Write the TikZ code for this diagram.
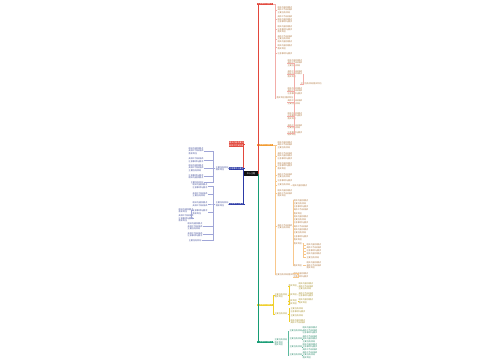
\documentclass[tikz,border=0pt]{standalone}
\usepackage{fontspec}
\newfontfamily\cjk{Noto Sans CJK SC}
\usetikzlibrary{positioning}

\definecolor{rootc}{HTML}{111111}
\definecolor{redb}{HTML}{E2483D}
\definecolor{blueb}{HTML}{2C3AA6}
\definecolor{orangeb}{HTML}{F29A2E}
\definecolor{yellowb}{HTML}{F0CF2A}
\definecolor{greenb}{HTML}{169C74}
\definecolor{tbrown}{HTML}{B07A44}
\definecolor{tblue}{HTML}{44509A}
\definecolor{tyellow}{HTML}{A89230}
\definecolor{tgreen}{HTML}{2F8C6E}

% filler lines
\newcommand\fa{相关内容及要点}
\newcommand\fb{具体工作安排表}
\newcommand\fc{注意事项与要求}
\newcommand\fd{主要任务目标}
\newcommand\fe{落实到位}

\tikzset{
  topic/.style={fill=rootc,text=white,minimum width=14,minimum height=5,inner sep=0.5pt},
  branch/.style={text=white,align=center,minimum width=14,inner sep=0.5pt},
  leafr/.style={anchor=west,align=left},
  leafl/.style={anchor=east,align=left,text=tblue},
  spine/.style={line width=0.7pt},
  twig/.style={line width=0.3pt}
}

\begin{document}
\begin{tikzpicture}[x=1pt,y=-1pt,every node/.style={font=\cjk\fontsize{2.1}{2.5}\selectfont,inner sep=0.4pt}]
\useasboundingbox (0,0) rectangle (500,360);

\node[topic] (root) at (251,173.5) {中心主题};

% left side
\node[branch,fill=redb] (redL) at (236.5,144) {\fa\\\fb};
\node[branch,fill=blueb] (blueA) at (236.5,168.5) {\fc};
\node[branch,fill=blueb] (blueB) at (236.5,204) {\fc};

\node[leafl] (ba) at (229,168.5) {\fd\\\fe};
\node[leafl] (ba1) at (204,151) {\fa\\\fb\\\fe};
\node[leafl] (ba2) at (204,160) {\fb\\\fc};
\node[leafl] (ba3) at (204,168) {\fa\\\fb\\\fd};
\node[leafl] (ba4) at (204,176.5) {\fc\\\fa};
\node[leafl] (ba5) at (204,182.5) {\fd};

\node[leafl] (bb) at (229,204) {\fd\\\fe};
\node[leafl] (bb1) at (208,186) {\fa\\\fc};
\node[leafl] (bb2) at (208,194.5) {\fb\\\fd};
\node[leafl] (bb3) at (208,204) {\fa\\\fb};
\node[leafl] (bb4) at (208,212) {\fc\\\fe};
\node[leafl] (bb5) at (203,226.5) {\fa\\\fb\\\fd};
\node[leafl] (bb6) at (203,234.5) {\fb\\\fc};
\node[leafl] (bb7) at (202,240.5) {\fd};
\node[leafl] (bb4a) at (194,210.5) {\fa\\\fe};
\node[leafl] (bb4b) at (194,218.5) {\fb\\\fc\\\fe};

% right side, red
\node[branch,fill=redb] (redT) at (265,4) {\fc};
\begin{scope}[every node/.style={leafr,text=tbrown,font=\cjk\fontsize{2.1}{2.5}\selectfont,inner sep=0.4pt}]
\node (r1) at (277,10) {\fa\\\fb\\\fd};
\node (r2) at (277,19.5) {\fb\\\fa\\\fc};
\node (r3) at (277,29.5) {\fa\\\fc\\\fe};
\node (r4) at (277,39) {\fb\\\fd\\\fa};
\node (r5) at (277,47) {\fa\\\fe};
\node (r6) at (277,53.5) {\fc};
\node (r7) at (276,98) {\fe\fe};
\node (r7a) at (287,63) {\fa\\\fb\\\fd};
\node (r7b) at (287,74) {\fb\\\fa\\\fe};
\node (r7c) at (287,91) {\fa\\\fb\\\fc};
\node (r7d) at (287,102) {\fb\\\fd};
\node (r7e) at (287,116) {\fa\\\fc\\\fe};
\node (r7f) at (287,126.5) {\fb\\\fd};
\node (r7g) at (287,133.5) {\fc\\\fe};
\node (r7b1) at (300,84) {\fd\fe};

% right side, orange
\node (o1) at (277,145) {\fa\\\fb\\\fd};
\node (o2) at (277,156) {\fb\\\fa\\\fc};
\node (o3) at (277,166) {\fa\\\fc\\\fe};
\node (o4) at (277,175.5) {\fb\\\fd};
\node (o5) at (277,181) {\fc};
\node (o6) at (277,185) {\fd};
\node (o6a) at (292,185.5) {\fa};
\node (o7) at (277,193.5) {\fa\\\fb\\\fe};
\node (o8) at (277,226.5) {\fb\\\fd};
\foreach \n/\yy/\t in {1/200.5/\fa,2/204/\fd,3/207/\fc,4/210/\fb,5/213.5/\fe,6/217/\fa,7/220/\fd,
    8/223/\fc,9/226.5/\fb,10/230/\fa,11/233/\fd,12/236.5/\fc,13/240/\fe}
  \node (o8\n) at (293,\yy) {\t};
\node (o8x) at (293,243.5) {\fe};
\foreach \n/\yy/\t in {1/245/\fa,2/248/\fb,3/251/\fc,4/254/\fa,5/257.5/\fd}
  \node (o8x\n) at (306,\yy) {\t};
\node (o8y) at (293,265.5) {\fe};
\node (o8y1) at (306,265.5) {\fa\\\fb\\\fe};
\node (o9) at (275,274.5) {\fd\fe};
\node (o91) at (293,273.5) {\fa};
\node (o92) at (293,277) {\fc};
\end{scope}
\node[branch,fill=orangeb] (orangeT) at (265,145) {\fc};

% right side, yellow
\node[branch,fill=yellowb] (yellowT) at (265,305) {\fc};
\begin{scope}[every node/.style={leafr,text=tyellow,font=\cjk\fontsize{2.1}{2.5}\selectfont,inner sep=0.4pt}]
\node (yA) at (274,295.5) {\fd\\\fe};
\node (yB) at (274,314) {\fd};
\node (ya1) at (288,286) {\fe};
\node (ya2) at (288,295) {\fe};
\node (ya3) at (288,301) {\fe};
\node (ya4) at (288,304) {\fe};
\node (ya11) at (298,286.5) {\fa\\\fb\\\fd};
\node (ya21) at (298,294.5) {\fb\\\fc};
\node (ya31) at (298,301) {\fa\\\fe};
\node (yb1) at (290,308.5) {\fd};
\node (yb2) at (290,312) {\fc};
\node (yb3) at (290,316) {\fd};
\node (yb4) at (290,321.5) {\fa\\\fb};
\end{scope}

% right side, green
\node[branch,fill=greenb] (greenT) at (265,342) {\fc};
\begin{scope}[every node/.style={leafr,text=tgreen,font=\cjk\fontsize{2.1}{2.5}\selectfont,inner sep=0.4pt}]
\node (gA) at (274,342.5) {\fd\\\fe\\\fe};
\node (g1) at (289,331) {\fd};
\node (g2) at (289,339) {\fd};
\node (g3) at (289,347) {\fd};
\node (g4) at (289,355) {\fd};
\node (g11) at (302,330.5) {\fa\\\fb\\\fc};
\node (g21) at (302,339) {\fb\\\fa\\\fd};
\node (g31) at (302,347) {\fa\\\fc\\\fb};
\node (g41) at (302,355) {\fb\\\fd\\\fe};
\end{scope}

% main branches
\begin{scope}[spine]
\draw[orangeb] (root.east) |- (orangeT.west);
\draw[redb] (root.east) |- (redT.west);
\draw[yellowb] (root.east) |- (yellowT.west);
\draw[greenb] (root.east) |- (greenT.west);
\draw[redb] (root.west) |- (redL.east);
\draw[blueb] (root.west) |- (blueA.east);
\draw[blueb] (root.west) |- (blueB.east);
\end{scope}

% twigs
\begin{scope}[twig]
\draw[blueb!50] (blueA.west) -- (ba.east);
\draw[blueb!50] (blueB.west) -- (bb.east);
\foreach \c in {ba1,ba2,ba3,ba4,ba5}
  \draw[blueb!45] (ba.west) -- ++(-2,0) |- (\c.east);
\foreach \c in {bb1,bb2,bb3,bb4,bb5,bb6,bb7}
  \draw[blueb!45] (bb.west) -- ++(-2,0) |- (\c.east);
\foreach \c in {bb4a,bb4b}
  \draw[blueb!45] (bb4.west) -- ++(-0.8,0) |- (\c.east);

\foreach \c in {r1,r2,r3,r4,r5,r6,r7}
  \draw[redb!45] (redT.east) -- ++(2,0) |- (\c.west);
\foreach \c in {r7a,r7b,r7c,r7d,r7e,r7f,r7g}
  \draw[redb!45] (r7.east) -- ++(0.6,0) |- (\c.west);
\draw[redb!45] (r7b.east) -- ++(0.5,0) |- (r7b1.west);

\foreach \c in {o1,o2,o3,o4,o5,o6,o7,o8,o9}
  \draw[orangeb!55] (orangeT.east) -- ++(2,0) |- (\c.west);
\draw[orangeb!55] (o6.east) -- (o6a.west);
\foreach \c in {o81,o82,o83,o84,o85,o86,o87,o88,o89,o810,o811,o812,o813,o8x,o8y}
  \draw[orangeb!55] (o8.east) -- ++(0.5,0) |- (\c.west);
\foreach \c in {o8x1,o8x2,o8x3,o8x4,o8x5}
  \draw[orangeb!55] (o8x.east) -- ++(0.6,0) |- (\c.west);
\draw[orangeb!55] (o8y.east) -- (o8y1.west);
\foreach \c in {o91,o92}
  \draw[orangeb!55] (o9.east) -- ++(1,0) |- (\c.west);

\foreach \c in {yA,yB}
  \draw[yellowb] (yellowT.east) -- ++(0.5,0) |- (\c.west);
\foreach \c in {ya1,ya2,ya3,ya4}
  \draw[yellowb] (yA.east) -- ++(1,0) |- (\c.west);
\foreach \c in {yb1,yb2,yb3,yb4}
  \draw[yellowb] (yB.east) -- ++(1,0) |- (\c.west);
\draw[yellowb] (ya1.east) -- (ya11.west);
\draw[yellowb] (ya2.east) -- (ya21.west);
\draw[yellowb] (ya3.east) -- (ya31.west);

\draw[greenb] (greenT.east) -- (gA.west);
\foreach \c in {g1,g2,g3,g4}
  \draw[greenb!70] (gA.east) -- ++(0.5,0) |- (\c.west);
\draw[greenb!70] (g1.east) -- (g11.west);
\draw[greenb!70] (g2.east) -- (g21.west);
\draw[greenb!70] (g3.east) -- (g31.west);
\draw[greenb!70] (g4.east) -- (g41.west);
\end{scope}

\end{tikzpicture}
\end{document}
